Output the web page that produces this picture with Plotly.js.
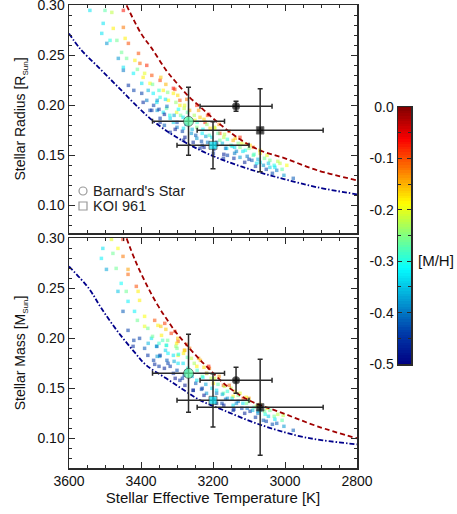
<!DOCTYPE html>
<html>
<head>
<meta charset="utf-8">
<script src="https://cdn.plot.ly/plotly-3.0.1.min.js"></script>
<style>
  html, body { margin: 0; padding: 0; background: #fff; }
  #chart { width: 457px; height: 514px; }
</style>
</head>
<body>
<div id="chart"></div>
<script>
// model grid, radius panel (Teff, R, [M/H])
const gridTeffR = [3542,3500,3481,3449,3505,3477,3449,3509,3486,3467,3444,3495,3435,3454,3407,3463,3440,3417,3403,3449,
  3421,3384,3449,3394,3370,3435,3398,3375,3347,3398,3366,3338,3310,3394,3356,3324,3292,3370,3338,3301,
  3347,3319,3384,3347,3310,3375,3329,3292,3245,3347,3310,3236,3222,3319,3282,3245,3208,3181,3282,3245,
  3181,3144,3125,3236,3199,3162,3125,3097,3171,3125,3088,3069,3088,3069,3042,3014,2995,3079,3042,3023,
  2977,3092,3300,3270,3260,3230,3215,3190,3195,3170,3150,3140,3110,3100,3265,3290,3335,3355,3230,3160,
  3050,3060,3030,3250,3215,3280,3320,3120,3140,3210,
  3335,3328,3332,3326,3331,3305,3300,3308,3296,3303,3298,3306,3278,3285,3275,3283,3271,3279,3273,3255,
  3248,3258,3244,3252,3240,3225,3232,3220,3228,3217,3225,3212,3198,3190,3203,3186,3196,3183,3170,3165,
  3174,3160,3168,3155,3142,3135,3147,3130,3138,3112,3105,3117,3100,3108,3082,3075,3086,3070,3052,3046,
  3057,3035,3028,3020,3008,3003,3350,3355,3350,3345,3365,3368,3380,3390,3410,3420];
const gridR = [0.295,0.295,0.293,0.295,0.282,0.277,0.278,0.272,0.265,0.265,0.267,0.262,0.262,0.253,0.252,0.247,0.247,0.245,0.242,0.238,
  0.232,0.240,0.235,0.228,0.230,0.220,0.222,0.222,0.225,0.212,0.212,0.215,0.217,0.203,0.203,0.205,0.205,0.195,0.193,0.193,
  0.187,0.187,0.205,0.208,0.212,0.195,0.197,0.200,0.200,0.183,0.183,0.188,0.183,0.173,0.177,0.178,0.177,0.172,0.165,0.167,
  0.165,0.165,0.168,0.157,0.152,0.157,0.158,0.160,0.147,0.148,0.150,0.143,0.158,0.152,0.145,0.142,0.140,0.142,0.138,0.135,
  0.127,0.145,0.178,0.186,0.172,0.172,0.163,0.160,0.177,0.168,0.160,0.152,0.155,0.146,0.195,0.190,0.180,0.195,0.160,0.150,
  0.150,0.140,0.140,0.185,0.190,0.197,0.190,0.162,0.158,0.170,
  0.191,0.199,0.206,0.213,0.221,0.176,0.183,0.190,0.196,0.203,0.210,0.216,0.168,0.174,0.181,0.188,0.193,0.200,0.206,0.163,
  0.170,0.176,0.183,0.190,0.195,0.158,0.164,0.169,0.176,0.181,0.186,0.191,0.156,0.163,0.168,0.172,0.178,0.181,0.151,0.157,
  0.162,0.166,0.171,0.174,0.147,0.154,0.159,0.162,0.167,0.143,0.149,0.154,0.157,0.161,0.139,0.146,0.151,0.155,0.136,0.142,
  0.147,0.132,0.138,0.144,0.136,0.130,0.196,0.205,0.215,0.228,0.200,0.221,0.215,0.232,0.236,0.215];
const gridMHR = [-0.33,-0.27,-0.22,-0.07,-0.33,-0.18,-0.12,-0.33,-0.30,-0.26,-0.18,-0.38,-0.10,-0.26,-0.10,-0.38,-0.26,-0.18,-0.11,-0.33,
  -0.32,-0.08,-0.40,-0.18,-0.10,-0.45,-0.33,-0.19,-0.09,-0.44,-0.32,-0.18,-0.06,-0.46,-0.33,-0.19,-0.10,-0.45,-0.33,-0.20,
  -0.45,-0.34,-0.40,-0.30,-0.18,-0.44,-0.27,-0.18,-0.08,-0.46,-0.34,-0.16,-0.07,-0.46,-0.33,-0.25,-0.17,-0.09,-0.47,-0.38,
  -0.26,-0.15,-0.08,-0.46,-0.45,-0.33,-0.25,-0.17,-0.46,-0.38,-0.27,-0.33,-0.12,-0.18,-0.26,-0.22,-0.19,-0.33,-0.34,-0.40,
  -0.42,-0.42,-0.40,-0.28,-0.38,-0.32,-0.40,-0.36,-0.20,-0.22,-0.28,-0.40,-0.30,-0.44,-0.15,-0.26,-0.42,-0.38,-0.44,-0.44,
  -0.20,-0.38,-0.30,-0.20,-0.10,-0.22,-0.30,-0.20,-0.34,-0.28,
  -0.47,-0.41,-0.33,-0.25,-0.15,-0.48,-0.43,-0.37,-0.31,-0.24,-0.17,-0.09,-0.48,-0.44,-0.39,-0.33,-0.27,-0.20,-0.12,-0.47,
  -0.42,-0.36,-0.29,-0.23,-0.14,-0.48,-0.43,-0.37,-0.31,-0.24,-0.17,-0.06,-0.45,-0.40,-0.33,-0.27,-0.21,-0.13,-0.47,-0.41,
  -0.36,-0.29,-0.22,-0.11,-0.46,-0.39,-0.33,-0.25,-0.16,-0.47,-0.40,-0.33,-0.25,-0.18,-0.45,-0.36,-0.28,-0.17,-0.44,-0.35,
  -0.26,-0.43,-0.33,-0.22,-0.27,-0.38,-0.45,-0.38,-0.29,-0.16,-0.44,-0.26,-0.36,-0.20,-0.26,-0.44];

// model grid, mass panel (Teff, M, [M/H])
const gridTeffM = [3506,3482,3450,3510,3478,3464,3450,3496,3469,3436,3436,3455,3413,3464,3441,3408,3436,3404,3450,3418,
  3390,3362,3436,3381,3353,3334,3404,3371,3343,3316,3422,3390,3357,3330,3297,3381,3348,3325,3297,3279,
  3362,3325,3297,3356,3329,3301,3347,3310,3282,3319,3245,3218,3292,3245,3199,3171,3255,3218,3171,3144,
  3116,3190,3144,3107,3079,3144,3097,3069,3042,3005,3060,3023,2977,3270,3260,3235,3230,3205,3190,3160,
  3130,3125,3100,3090,3055,3030,3310,3300,3265,3340,3230,3175,3120,3150,3210,3280,3075,3050,
  3335,3328,3332,3326,3331,3305,3300,3308,3296,3303,3298,3306,3278,3285,3275,3283,3271,3279,3273,3255,
  3248,3258,3244,3252,3240,3225,3232,3220,3228,3217,3225,3212,3198,3190,3203,3186,3196,3183,3170,3165,
  3174,3160,3168,3155,3142,3135,3147,3130,3138,3112,3105,3117,3100,3108,3082,3075,3086,3070,3052,3046,
  3057,3035,3028,3020,3008,3003,3350,3355,3350,3345,3365,3368,3380,3390,3410,3420];
const gridM = [0.290,0.299,0.299,0.280,0.285,0.290,0.282,0.269,0.270,0.269,0.264,0.255,0.252,0.247,0.247,0.247,0.237,0.238,0.227,0.227,
  0.222,0.218,0.208,0.210,0.213,0.215,0.200,0.200,0.203,0.205,0.192,0.190,0.192,0.193,0.197,0.183,0.182,0.185,0.183,0.188,
  0.174,0.175,0.175,0.192,0.193,0.195,0.183,0.183,0.185,0.172,0.172,0.165,0.158,0.158,0.155,0.153,0.148,0.145,0.145,0.142,
  0.140,0.135,0.133,0.135,0.132,0.128,0.127,0.128,0.128,0.123,0.118,0.115,0.108,0.170,0.180,0.178,0.162,0.160,0.148,0.140,
  0.137,0.145,0.140,0.128,0.124,0.122,0.165,0.190,0.190,0.198,0.150,0.135,0.130,0.150,0.170,0.163,0.125,0.130,
  0.170,0.178,0.188,0.198,0.209,0.160,0.168,0.177,0.184,0.192,0.200,0.207,0.153,0.160,0.167,0.175,0.181,0.188,0.194,0.148,
  0.155,0.162,0.168,0.175,0.180,0.143,0.149,0.154,0.161,0.165,0.171,0.172,0.139,0.145,0.150,0.154,0.160,0.162,0.133,0.139,
  0.144,0.147,0.152,0.153,0.129,0.135,0.140,0.143,0.147,0.125,0.130,0.135,0.137,0.141,0.121,0.127,0.131,0.134,0.117,0.122,
  0.127,0.114,0.119,0.124,0.118,0.112,0.172,0.182,0.195,0.212,0.178,0.202,0.195,0.212,0.218,0.198];
const gridMHM = [-0.33,-0.20,-0.08,-0.32,-0.26,-0.19,-0.12,-0.37,-0.26,-0.14,-0.11,-0.31,-0.10,-0.35,-0.26,-0.18,-0.32,-0.18,-0.42,-0.32,
  -0.19,-0.10,-0.44,-0.26,-0.18,-0.09,-0.44,-0.33,-0.18,-0.09,-0.46,-0.42,-0.33,-0.26,-0.10,-0.45,-0.38,-0.32,-0.18,-0.10,
  -0.46,-0.44,-0.33,-0.42,-0.32,-0.18,-0.44,-0.33,-0.18,-0.45,-0.18,-0.09,-0.46,-0.33,-0.18,-0.10,-0.46,-0.38,-0.27,-0.18,
  -0.10,-0.45,-0.33,-0.26,-0.18,-0.45,-0.45,-0.33,-0.26,-0.22,-0.42,-0.42,-0.42,-0.30,-0.22,-0.15,-0.26,-0.22,-0.33,-0.38,
  -0.40,-0.20,-0.14,-0.36,-0.30,-0.26,-0.46,-0.26,-0.12,-0.28,-0.44,-0.44,-0.44,-0.22,-0.12,-0.42,-0.40,-0.20,
  -0.47,-0.42,-0.34,-0.26,-0.16,-0.48,-0.43,-0.37,-0.31,-0.24,-0.16,-0.09,-0.48,-0.44,-0.39,-0.33,-0.27,-0.19,-0.11,-0.47,
  -0.42,-0.36,-0.29,-0.23,-0.14,-0.48,-0.43,-0.37,-0.31,-0.24,-0.17,-0.07,-0.45,-0.40,-0.33,-0.27,-0.21,-0.13,-0.47,-0.41,
  -0.36,-0.29,-0.22,-0.11,-0.46,-0.39,-0.33,-0.25,-0.16,-0.47,-0.40,-0.33,-0.25,-0.18,-0.45,-0.36,-0.28,-0.17,-0.44,-0.35,
  -0.26,-0.43,-0.33,-0.22,-0.27,-0.38,-0.45,-0.38,-0.29,-0.16,-0.44,-0.26,-0.36,-0.20,-0.26,-0.44];

// [M/H] = 0.0 and -0.5 boundary tracks
const redTeffR = [3440,3400,3370,3330,3300,3265,3240,3200,3170,3125,3070,3000,2910,2800];
const redR = [0.300,0.272,0.257,0.235,0.222,0.208,0.200,0.187,0.178,0.166,0.155,0.147,0.135,0.125];
const blueTeffR = [3600,3570,3515,3460,3405,3365,3310,3235,3170,3080,3000,2910,2800];
const blueR = [0.272,0.257,0.237,0.217,0.197,0.184,0.170,0.155,0.145,0.134,0.126,0.118,0.111];
const redTeffM = [3440,3415,3385,3355,3330,3305,3275,3245,3218,3160,3100,3005,2910,2800];
const redM = [0.300,0.277,0.254,0.234,0.220,0.207,0.194,0.182,0.172,0.152,0.138,0.125,0.112,0.100];
const blueTeffM = [3600,3545,3510,3465,3420,3385,3330,3280,3235,3170,3080,2970,2895,2800];
const blueM = [0.272,0.250,0.230,0.207,0.187,0.173,0.160,0.148,0.138,0.128,0.115,0.103,0.098,0.094];

// stars: [Barnard's Star, KOI 961]
const starTeff = [3268, 3200];
const starTeffErr = [100, 100];
const starR = [0.184, 0.160];
const starRErr = [0.034, 0.0235];
const starM = [0.165, 0.138];
const starMErr = [0.039, 0.0267];
const starMH = [-0.27, -0.335];
// literature values
const litTeff = [3136, 3069];
const litTeffErr = [100, 175];
const litR = [0.199, 0.175];
const litRErr = [0.005, 0.0415];
const litM = [0.158, 0.131];
const litMErr = [0.013, 0.048];
const starSymbols = ['circle', 'square'];
const starSizes = [10, 8];
const litSizes = [7.5, 7.5];

const cbTicks = [0.0, -0.1, -0.2, -0.3, -0.4, -0.5];

const W = 457, H = 514;
const px = x => x / W;
const py = y => 1 - y / H;
const font = 'Liberation Sans, Arial, Helvetica, sans-serif';
const ink = '#2a2a2a';

const jet = [[0,'rgb(0,0,131)'],[0.125,'rgb(0,60,170)'],[0.375,'rgb(5,255,255)'],
             [0.625,'rgb(255,255,0)'],[0.875,'rgb(250,0,0)'],[1,'rgb(128,0,0)']];

function gridTrace(x, y, c, xa, ya) {
  return {
    x: x, y: y, xaxis: xa, yaxis: ya, type: 'scatter', mode: 'markers',
    marker: { symbol: 'square', size: 3.5, color: c, colorscale: jet, cmin: -0.5, cmax: 0,
              opacity: 0.55, line: { width: 0 } },
    showlegend: false, hoverinfo: 'skip'
  };
}
function trackTrace(x, y, color, dash, xa, ya) {
  return { x: x, y: y, xaxis: xa, yaxis: ya, type: 'scatter', mode: 'lines',
           line: { color: color, width: 1.8, dash: dash, shape: 'spline' }, showlegend: false };
}
function starTrace(x, xe, y, ye, colors, sizes, xa, ya) {
  return {
    x: x, y: y, xaxis: xa, yaxis: ya, type: 'scatter', mode: 'markers',
    error_x: { type: 'data', array: xe, color: ink, thickness: 1.5, width: 2.5 },
    error_y: { type: 'data', array: ye, color: ink, thickness: 1.5, width: 2.5 },
    marker: { symbol: starSymbols, size: sizes, color: colors, colorscale: jet, cmin: -0.5, cmax: 0,
              line: { color: ink, width: 0.8 } },
    showlegend: false
  };
}

const mhScale = [];
for (let v = -0.5; v <= 0.0001; v += 0.005) mhScale.push(+v.toFixed(3));

const redDash = '5px,3px';
const blueDash = '5px,2px,1.5px,2px';

const data = [
  gridTrace(gridTeffR, gridR, gridMHR, 'x', 'y'),
  trackTrace(redTeffR, redR, '#a00000', redDash, 'x', 'y'),
  trackTrace(blueTeffR, blueR, '#00008b', blueDash, 'x', 'y'),
  starTrace(litTeff, litTeffErr, litR, litRErr, ['#000', '#000'], litSizes, 'x', 'y'),
  starTrace(starTeff, starTeffErr, starR, starRErr, starMH, starSizes, 'x', 'y'),

  gridTrace(gridTeffM, gridM, gridMHM, 'x2', 'y2'),
  trackTrace(redTeffM, redM, '#a00000', redDash, 'x2', 'y2'),
  trackTrace(blueTeffM, blueM, '#00008b', blueDash, 'x2', 'y2'),
  starTrace(litTeff, litTeffErr, litM, litMErr, ['#000', '#000'], litSizes, 'x2', 'y2'),
  starTrace(starTeff, starTeffErr, starM, starMErr, starMH, starSizes, 'x2', 'y2'),

  { type: 'heatmap', x: [0], y: mhScale, z: mhScale.map(v => [v]), xaxis: 'x3', yaxis: 'y3',
    colorscale: jet, zmin: -0.5, zmax: 0, showscale: false, hoverinfo: 'skip' }
];

const axBase = {
  showline: true, linecolor: ink, linewidth: 1.5, mirror: 'ticks',
  ticks: 'inside', ticklen: 6, tickwidth: 1, tickcolor: ink,
  showgrid: false, zeroline: false, ticklabeloverflow: 'allow',
  tickfont: { family: font, size: 14, color: '#111' }
};
const xBase = Object.assign({}, axBase, {
  range: [3600, 2800], tick0: 2800, dtick: 200,
  minor: { dtick: 50, ticks: 'inside', ticklen: 3, tickcolor: ink }
});
const yBase = Object.assign({}, axBase, {
  tick0: 0, dtick: 0.05, tickformat: '.2f',
  minor: { dtick: 0.01, ticks: 'inside', ticklen: 3, tickcolor: ink }
});
const sub = s => '<sub><span style="font-size:8px">' + s + '</span></sub>';

const xDom = [px(69), px(357)];
const layout = {
  width: W, height: H,
  margin: { l: 0, r: 0, t: 0, b: 0 },
  paper_bgcolor: '#fff', plot_bgcolor: '#fff',
  font: { family: font, color: '#111' },
  xaxis: Object.assign({}, xBase, { domain: xDom, anchor: 'y', showticklabels: false }),
  yaxis: Object.assign({}, yBase, { domain: [py(233), py(5)], anchor: 'x', range: [0.0723, 0.3004],
    title: { text: 'Stellar Radius [R' + sub('Sun') + ']', font: { family: font, size: 14 }, standoff: 8 } }),
  xaxis2: Object.assign({}, xBase, { domain: xDom, anchor: 'y2',
    title: { text: 'Stellar Effective Temperature [K]', font: { family: font, size: 15 }, standoff: 4 } }),
  yaxis2: Object.assign({}, yBase, { domain: [py(468), py(238)], anchor: 'x2', range: [0.0703, 0.3004],
    title: { text: 'Stellar Mass [M' + sub('Sun') + ']', font: { family: font, size: 14 }, standoff: 8 } }),
  xaxis3: { domain: [px(398), px(411)], anchor: 'y3', range: [-0.5, 0.5], showticklabels: false,
            ticks: '', showgrid: false, zeroline: false, showline: true, linecolor: ink, linewidth: 1.5, mirror: true },
  yaxis3: Object.assign({}, axBase, { domain: [py(364), py(107)], anchor: 'x3', range: [-0.5, 0],
    tickvals: cbTicks, ticktext: cbTicks.map(v => v === 0 ? '0.0' : v.toFixed(1)), ticklen: 4,
    minor: { dtick: 0.05, ticks: 'inside', ticklen: 3, tickcolor: ink } }),
  annotations: [
    { xref: 'paper', yref: 'paper', x: px(416), y: py(260), xanchor: 'left', yanchor: 'middle',
      text: '[M/H]', showarrow: false, font: { family: font, size: 15, color: '#111' } },
    { xref: 'paper', yref: 'paper', x: px(91), y: py(191), xanchor: 'left', yanchor: 'middle', height: 14,
      text: "Barnard's Star", showarrow: false, font: { family: font, size: 14.5, color: '#222' } },
    { xref: 'paper', yref: 'paper', x: px(91), y: py(206), xanchor: 'left', yanchor: 'middle', height: 14,
      text: 'KOI 961', showarrow: false, font: { family: font, size: 14.5, color: '#222' } }
  ],
  shapes: [
    { type: 'circle', xref: 'paper', yref: 'paper', x0: px(79), x1: px(87), y0: py(195), y1: py(187),
      line: { color: '#999', width: 1.2 } },
    { type: 'rect', xref: 'paper', yref: 'paper', x0: px(79), x1: px(87), y0: py(210), y1: py(202),
      line: { color: '#999', width: 1.2 } }
  ]
};

Plotly.newPlot('chart', data, layout, { displayModeBar: false, staticPlot: true });
</script>
</body>
</html>
